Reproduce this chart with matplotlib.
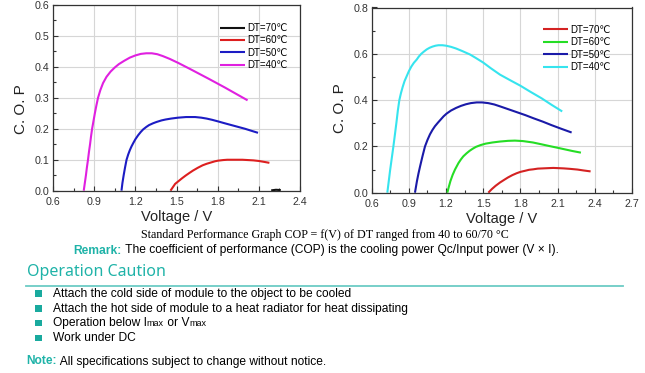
import matplotlib
matplotlib.use('Agg')
import matplotlib.pyplot as plt
from matplotlib.ticker import MultipleLocator

plt.rcParams['font.family'] = ['Liberation Sans', 'DejaVu Sans']

# ---- left graph (DT = 40..70) ----
a70_v = [2.19, 2.225, 2.26]
a70_c = [0.001, 0.003, 0.002]
a60_v = [1.456, 1.47, 1.49, 1.515, 1.54, 1.567, 1.593, 1.62, 1.655, 1.69, 1.72, 1.75, 1.78, 1.802,
         1.84, 1.87, 1.91, 1.94, 1.98, 2.02, 2.06, 2.1, 2.14, 2.177]
a60_c = [0.0, 0.009, 0.022, 0.031, 0.04, 0.049, 0.057, 0.065, 0.074, 0.082, 0.087, 0.091, 0.095, 0.097,
         0.099, 0.1, 0.1, 0.1, 0.1, 0.099, 0.098, 0.096, 0.093, 0.09]
a50_v = [1.099, 1.106, 1.115, 1.125, 1.136, 1.148, 1.16, 1.172, 1.185, 1.2, 1.22, 1.24, 1.257, 1.28,
         1.30, 1.33, 1.354, 1.39, 1.42, 1.46, 1.512, 1.57, 1.636, 1.68, 1.72, 1.76, 1.802, 1.85,
         1.9, 1.95, 2.0, 2.05, 2.094]
a50_c = [0.0, 0.025, 0.05, 0.075, 0.1, 0.117, 0.131, 0.143, 0.154, 0.166, 0.179, 0.19, 0.198, 0.206,
         0.212, 0.218, 0.222, 0.227, 0.23, 0.233, 0.236, 0.238, 0.238, 0.236, 0.233, 0.229, 0.224, 0.218,
         0.212, 0.206, 0.2, 0.193, 0.187]
a40_v = [0.824, 0.832, 0.84, 0.847, 0.855, 0.862, 0.87, 0.877, 0.885, 0.895, 0.905, 0.916, 0.928,
         0.945, 0.965, 0.99, 1.02, 1.05, 1.08, 1.12, 1.16, 1.2, 1.24, 1.28, 1.32, 1.36, 1.4, 1.45,
         1.512, 1.6, 1.733, 1.85, 2.018]
a40_c = [0.0, 0.025, 0.05, 0.075, 0.1, 0.125, 0.15, 0.175, 0.2, 0.225, 0.25, 0.275, 0.3,
         0.325, 0.348, 0.368, 0.385, 0.398, 0.409, 0.42, 0.43, 0.437, 0.442, 0.444, 0.444, 0.441, 0.435, 0.426,
         0.413, 0.393, 0.362, 0.334, 0.292]

# ---- right graph ----
b70_v = [1.541, 1.555, 1.57, 1.585, 1.6, 1.635, 1.67, 1.7, 1.735, 1.769, 1.8, 1.84, 1.87, 1.903,
         1.94, 1.98, 2.02, 2.065, 2.11, 2.15, 2.2, 2.26, 2.31, 2.366]
b70_c = [0.0, 0.008, 0.016, 0.023, 0.03, 0.044, 0.056, 0.066, 0.076, 0.084, 0.09, 0.095, 0.099, 0.101,
         0.104, 0.105, 0.106, 0.107, 0.106, 0.105, 0.103, 0.1, 0.096, 0.092]
b60_v = [1.21, 1.222, 1.235, 1.253, 1.272, 1.3, 1.32, 1.339, 1.365, 1.39, 1.415, 1.441, 1.48, 1.52,
         1.575, 1.635, 1.7, 1.756, 1.82, 1.9, 1.97, 2.038, 2.1, 2.16, 2.22, 2.288]
b60_c = [0.0, 0.025, 0.05, 0.077, 0.1, 0.128, 0.144, 0.157, 0.17, 0.181, 0.19, 0.198, 0.206, 0.212,
         0.217, 0.221, 0.224, 0.225, 0.223, 0.217, 0.209, 0.201, 0.194, 0.187, 0.18, 0.173]
b50_v = [0.949, 0.957, 0.965, 0.977, 0.99, 1.01, 1.03, 1.05, 1.07, 1.09, 1.11, 1.135, 1.16, 1.18,
         1.205, 1.24, 1.28, 1.32, 1.36, 1.4, 1.447, 1.49, 1.54, 1.59, 1.635, 1.7, 1.77, 1.84, 1.903,
         1.98, 2.05, 2.13, 2.213]
b50_c = [0.0, 0.025, 0.05, 0.082, 0.113, 0.158, 0.2, 0.228, 0.252, 0.271, 0.287, 0.303, 0.318, 0.33,
         0.342, 0.355, 0.366, 0.375, 0.382, 0.387, 0.39, 0.39, 0.387, 0.381, 0.373, 0.361, 0.348, 0.335, 0.322,
         0.307, 0.292, 0.276, 0.26]
b40_v = [0.726, 0.733, 0.74, 0.748, 0.757, 0.766, 0.775, 0.787, 0.8, 0.811, 0.823, 0.836, 0.85, 0.865,
         0.882, 0.9, 0.92, 0.94, 0.963, 0.98, 1.0, 1.022, 1.044, 1.067, 1.09, 1.115, 1.138, 1.17, 1.2,
         1.24, 1.28, 1.33, 1.393, 1.44, 1.5, 1.56, 1.635, 1.72, 1.8, 1.88, 1.97, 2.05, 2.137]
b40_c = [0.0, 0.03, 0.06, 0.095, 0.13, 0.165, 0.2, 0.25, 0.305, 0.355, 0.4, 0.43, 0.457, 0.482,
         0.503, 0.525, 0.545, 0.561, 0.575, 0.588, 0.6, 0.61, 0.619, 0.626, 0.631, 0.635, 0.637, 0.637, 0.635,
         0.63, 0.623, 0.612, 0.597, 0.582, 0.562, 0.538, 0.51, 0.485, 0.462, 0.436, 0.408, 0.38, 0.351]

labels = ['DT=70℃', 'DT=60℃', 'DT=50℃', 'DT=40℃']
teal = '#1fb3a8'

W, H = 645, 373
fig = plt.figure(figsize=(6.45, 3.73), dpi=100)


def setup(ax, xmaj, ymaj, xlim, ylim):
    ax.set_xlim(*xlim)
    ax.set_ylim(*ylim)
    ax.xaxis.set_major_locator(MultipleLocator(xmaj))
    ax.xaxis.set_minor_locator(MultipleLocator(xmaj / 2))
    ax.yaxis.set_major_locator(MultipleLocator(ymaj))
    ax.yaxis.set_minor_locator(MultipleLocator(ymaj / 2))
    ax.tick_params(which='both', direction='in', labelsize=7.7, labelcolor='#333333',
                   color='#333333', width=0.8, pad=2.5)
    ax.tick_params(axis='x', which='both', pad=4.5)
    ax.tick_params(which='major', length=3.5)
    ax.tick_params(which='minor', length=2)
    ax.grid(True, which='major', color='#d6d6d6', lw=0.8)
    ax.set_axisbelow(True)
    for s in ax.spines.values():
        s.set_color('#333333')
        s.set_linewidth(0.9)
    ax.set_xlabel('Voltage / V', fontsize=10.5, color='#222222')
    ax.set_ylabel('C. O. P', fontsize=11, color='#222222')
    ax.xaxis.label.set_va('center')
    ax.yaxis.label.set_va('center')


style = dict(lw=1.5, solid_joinstyle='round', solid_capstyle='butt')

ax1 = fig.add_axes([53 / W, 1 - 190.7 / H, 247 / W, 185.7 / H])
ax1.plot(a70_v, a70_c, color='#111111', label=labels[0], **style)
ax1.plot(a60_v, a60_c, color='#dd1f1f', label=labels[1], **style)
ax1.plot(a50_v, a50_c, color='#1c1cc4', label=labels[2], **style)
ax1.plot(a40_v, a40_c, color='#e020e0', label=labels[3], **style)
setup(ax1, 0.3, 0.1, (0.6, 2.4), (0, 0.6))
ax1.xaxis.set_label_coords(0.5, -0.14)
ax1.yaxis.set_label_coords(-0.13, 0.44)
ax1.legend(loc='upper left', bbox_to_anchor=(0.675, 0.903), frameon=False, fontsize=7,
           handlelength=2.6, handletextpad=0.25, labelspacing=0.25, borderpad=0, borderaxespad=0)

ax2 = fig.add_axes([371.7 / W, 1 - 192.7 / H, 260.3 / W, 185.2 / H])
ax2.plot(b70_v, b70_c, color='#d42222', label=labels[0], **style)
ax2.plot(b60_v, b60_c, color='#25dd25', label=labels[1], **style)
ax2.plot(b50_v, b50_c, color='#1a1aa8', label=labels[2], **style)
ax2.plot(b40_v, b40_c, color='#36e4ee', label=labels[3], **style)
setup(ax2, 0.3, 0.2, (0.6, 2.7), (0, 0.8))
ax2.xaxis.set_label_coords(0.5, -0.142)
ax2.yaxis.set_label_coords(-0.122, 0.457)
ax2.legend(loc='upper left', bbox_to_anchor=(0.658, 0.907), frameon=False, fontsize=7,
           handlelength=2.6, handletextpad=0.25, labelspacing=0.25, borderpad=0, borderaxespad=0)

# ---- text block under the graphs ----
rend = fig.canvas.get_renderer()


def runs(x, y, parts):
    # write pieces one after another on the same baseline, x/y in pixels
    for s, kw in parts:
        t = fig.text(x / W, 1 - y / H, s, va='baseline', **kw)
        x += t.get_window_extent(rend).width


fs = 8.65
fig.text(325 / W, 1 - 238 / H, 'Standard Performance Graph COP = f(V) of DT ranged from 40 to 60/70 °C',
         family=['Liberation Serif', 'DejaVu Serif'], fontsize=fs, ha='center', va='baseline')
runs(73.3, 253.5, [('Remark:', dict(color=teal, fontsize=fs, weight='bold')),
                   (' The coefficient of performance (COP) is the cooling power Qc/Input power (V × I).',
                    dict(fontsize=fs))])
fig.text(26.7 / W, 1 - 276 / H, 'Operation Caution', family=['Noto Sans', 'DejaVu Sans'],
         fontsize=11.5, color=teal, va='baseline')
fig.add_artist(plt.Line2D([26 / W, 623 / W], [1 - 285.7 / H, 1 - 285.7 / H], color='#6ccbc5', lw=1.3))

big, small = fs, 6.5
bullets = [
    [('Attach the cold side of module to the object to be cooled', big)],
    [('Attach the hot side of module to a heat radiator for heat dissipating', big)],
    [('Operation below I', big), ('max', small), (' or V', big), ('max', small)],
    [('Work under DC', big)],
]
rows = [293.7, 308.3, 323, 338]
for yy, parts in zip(rows, bullets):
    fig.add_artist(plt.Rectangle((35.2 / W, 1 - (yy + 3.3) / H), 6.8 / W, 6.8 / H,
                                 color='#19aa9e', lw=0))
    runs(52.7, yy + 3.4, [(s, dict(fontsize=f)) for s, f in parts])

runs(26.7, 364.5, [('Note:', dict(color=teal, fontsize=fs, weight='bold')),
                   (' All specifications subject to change without notice.', dict(fontsize=fs))])

fig.savefig('out.png', dpi=100)
